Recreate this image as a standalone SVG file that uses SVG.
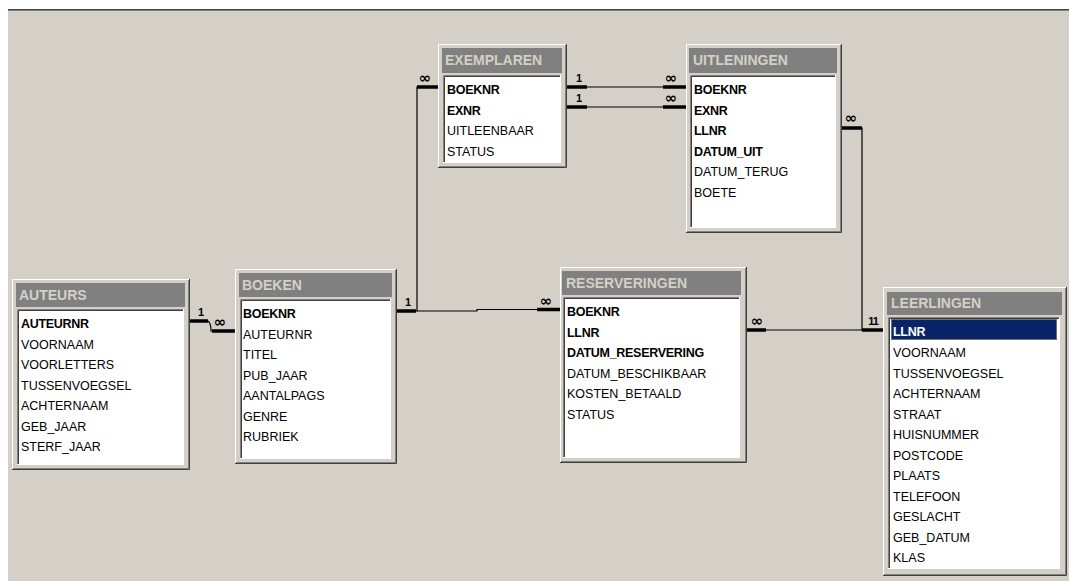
<svg xmlns="http://www.w3.org/2000/svg" width="1070" height="581" viewBox="0 0 1070 581">
<style>
.face{fill:#D4D0C8}
.hl{fill:none;stroke:#FFFFFF;stroke-width:1}
.sh1{fill:none;stroke:#404040;stroke-width:1}
.sh2{fill:none;stroke:#808080;stroke-width:1}
.tbar{fill:#808080}
.ttl{font-family:"Liberation Sans",Arial,sans-serif;font-weight:bold;font-size:14px;fill:#D4D0C8}
.list{fill:#FFFFFF}
.f{font-family:"Liberation Sans",Arial,sans-serif;font-size:12.5px;fill:#000}
.b{font-weight:bold;letter-spacing:-0.3px}
.thin{fill:none;stroke:#000;stroke-width:1.2}
.thick{fill:none;stroke:#000;stroke-width:3.5}
.lbl{font-family:"Liberation Sans",Arial,sans-serif;font-weight:bold;font-size:11px;fill:#000;text-anchor:middle}
.inf{font-family:"DejaVu Sans",sans-serif;font-weight:bold;font-size:15px;fill:#000;text-anchor:middle}
</style>
<rect x="0" y="0" width="1070" height="581" fill="#FFFFFF"/>
<rect x="8" y="9" width="1061" height="572" fill="#D4D0C8"/>
<line x1="8" y1="9.5" x2="1069" y2="9.5" stroke="#404040"/>
<line x1="8" y1="10.5" x2="1069" y2="10.5" stroke="#808080"/>

<g id="connectors">
  <!-- AUTEURS - BOEKEN -->
  <path class="thin" d="M190,321 H208 Q211,323 211,331 H235"/>
  <line class="thick" x1="190" y1="321" x2="208" y2="321"/>
  <line class="thick" x1="212" y1="331" x2="235" y2="331"/>
  <text class="lbl" x="201" y="316">1</text>
  <text class="inf" x="220" y="327">∞</text>
  <!-- BOEKEN - EXEMPLAREN -->
  <path class="thin" d="M397,311 H417 V87 H438"/>
  <line class="thick" x1="397" y1="311" x2="416" y2="311"/>
  <line class="thick" x1="417" y1="87" x2="438" y2="87"/>
  <text class="lbl" x="408" y="306">1</text>
  <text class="inf" x="425" y="83">∞</text>
  <!-- BOEKEN - RESERVERINGEN -->
  <path class="thin" d="M417,311 H477 V309.5 H560"/>
  <line class="thick" x1="537" y1="309.5" x2="560" y2="309.5"/>
  <text class="inf" x="546" y="306">∞</text>
  <!-- EXEMPLAREN - UITLENINGEN -->
  <path class="thin" d="M567,87 H686"/>
  <line class="thick" x1="567" y1="87" x2="587" y2="87"/>
  <line class="thick" x1="663" y1="87" x2="686" y2="87"/>
  <text class="lbl" x="579" y="82">1</text>
  <text class="inf" x="671" y="83">∞</text>
  <path class="thin" d="M567,107 H686"/>
  <line class="thick" x1="567" y1="107" x2="587" y2="107"/>
  <line class="thick" x1="663" y1="107" x2="686" y2="107"/>
  <text class="lbl" x="579" y="102">1</text>
  <text class="inf" x="671" y="103">∞</text>
  <!-- UITLENINGEN - LEERLINGEN -->
  <path class="thin" d="M842,128 H862 V330 H883"/>
  <line class="thick" x1="842" y1="128" x2="862" y2="128"/>
  <line class="thick" x1="862" y1="330" x2="883" y2="330"/>
  <text class="inf" x="851" y="123">∞</text>
  <text class="lbl" x="873" y="325" letter-spacing="-1">11</text>
  <!-- RESERVERINGEN - LEERLINGEN -->
  <path class="thin" d="M747,330 H862"/>
  <line class="thick" x1="747" y1="330" x2="766" y2="330"/>
  <text class="inf" x="757" y="326">∞</text>
</g>

<g id="AUTEURS" transform="translate(12,279)">
  <rect class="face" x="0" y="0" width="178" height="191"/>
  <path class="hl" d="M0.5,190 V0.5 H177"/>
  <path class="sh1" d="M0,190.5 H177.5 V0"/>
  <path class="sh2" d="M1,189.5 H176.5 V1"/>
  <rect class="tbar" x="4" y="4" width="169" height="24"/>
  <text class="ttl" x="7" y="21">AUTEURS</text>
  <rect class="list" x="5" y="30" width="167" height="156"/>
  <path class="sh2" d="M5.5,186 V30.5 H172"/>
  <path class="sh1" d="M6.5,185 V31.5 H171"/>
  <path class="hl" d="M5,185.5 H171.5 V30"/>
  <text class="f b" x="9" y="49">AUTEURNR</text>
  <text class="f" x="9" y="69.5">VOORNAAM</text>
  <text class="f" x="9" y="90">VOORLETTERS</text>
  <text class="f" x="9" y="110.5">TUSSENVOEGSEL</text>
  <text class="f" x="9" y="131">ACHTERNAAM</text>
  <text class="f" x="9" y="151.5">GEB_JAAR</text>
  <text class="f" x="9" y="172">STERF_JAAR</text>
</g>

<g id="BOEKEN" transform="translate(235,269)">
  <rect class="face" x="0" y="0" width="162" height="195"/>
  <path class="hl" d="M0.5,194 V0.5 H161"/>
  <path class="sh1" d="M0,194.5 H161.5 V0"/>
  <path class="sh2" d="M1,193.5 H160.5 V1"/>
  <rect class="tbar" x="4" y="4" width="153" height="24"/>
  <text class="ttl" x="7" y="21">BOEKEN</text>
  <rect class="list" x="5" y="30" width="151" height="160"/>
  <path class="sh2" d="M5.5,190 V30.5 H156"/>
  <path class="sh1" d="M6.5,189 V31.5 H155"/>
  <path class="hl" d="M5,189.5 H155.5 V30"/>
  <text class="f b" x="8" y="49">BOEKNR</text>
  <text class="f" x="8" y="69.5">AUTEURNR</text>
  <text class="f" x="8" y="90">TITEL</text>
  <text class="f" x="8" y="110.5">PUB_JAAR</text>
  <text class="f" x="8" y="131">AANTALPAGS</text>
  <text class="f" x="8" y="151.5">GENRE</text>
  <text class="f" x="8" y="172">RUBRIEK</text>
</g>

<g id="EXEMPLAREN" transform="translate(438,44)">
  <rect class="face" x="0" y="0" width="129" height="124"/>
  <path class="hl" d="M0.5,123 V0.5 H128"/>
  <path class="sh1" d="M0,123.5 H128.5 V0"/>
  <path class="sh2" d="M1,122.5 H127.5 V1"/>
  <rect class="tbar" x="4" y="4" width="120" height="25"/>
  <text class="ttl" x="7" y="21">EXEMPLAREN</text>
  <rect class="list" x="5" y="31" width="118" height="88"/>
  <path class="sh2" d="M5.5,119 V31.5 H123"/>
  <path class="sh1" d="M6.5,118 V32.5 H122"/>
  <path class="hl" d="M5,118.5 H122.5 V31"/>
  <text class="f b" x="9" y="50">BOEKNR</text>
  <text class="f b" x="9" y="70.5">EXNR</text>
  <text class="f" x="9" y="91">UITLEENBAAR</text>
  <text class="f" x="9" y="111.5">STATUS</text>
</g>

<g id="UITLENINGEN" transform="translate(686,44)">
  <rect class="face" x="0" y="0" width="156" height="189"/>
  <path class="hl" d="M0.5,188 V0.5 H155"/>
  <path class="sh1" d="M0,188.5 H155.5 V0"/>
  <path class="sh2" d="M1,187.5 H154.5 V1"/>
  <rect class="tbar" x="3" y="4" width="148" height="25"/>
  <text class="ttl" x="7" y="21">UITLENINGEN</text>
  <rect class="list" x="4" y="31" width="146" height="153"/>
  <path class="sh2" d="M4.5,184 V31.5 H150"/>
  <path class="sh1" d="M5.5,183 V32.5 H149"/>
  <path class="hl" d="M4,183.5 H149.5 V31"/>
  <text class="f b" x="8" y="50">BOEKNR</text>
  <text class="f b" x="8" y="70.5">EXNR</text>
  <text class="f b" x="8" y="91">LLNR</text>
  <text class="f b" x="8" y="111.5">DATUM_UIT</text>
  <text class="f" x="8" y="132">DATUM_TERUG</text>
  <text class="f" x="8" y="152.5">BOETE</text>
</g>

<g id="RESERVERINGEN" transform="translate(560,267)">
  <rect class="face" x="0" y="0" width="187" height="196"/>
  <path class="hl" d="M0.5,195 V0.5 H186"/>
  <path class="sh1" d="M0,195.5 H186.5 V0"/>
  <path class="sh2" d="M1,194.5 H185.5 V1"/>
  <rect class="tbar" x="2" y="4" width="179" height="24"/>
  <text class="ttl" x="6" y="21">RESERVERINGEN</text>
  <rect class="list" x="3" y="30" width="177" height="161"/>
  <path class="sh2" d="M3.5,191 V30.5 H180"/>
  <path class="sh1" d="M4.5,190 V31.5 H179"/>
  <path class="hl" d="M3,190.5 H179.5 V30"/>
  <text class="f b" x="7" y="49">BOEKNR</text>
  <text class="f b" x="7" y="69.5">LLNR</text>
  <text class="f b" x="7" y="90">DATUM_RESERVERING</text>
  <text class="f" x="7" y="110.5">DATUM_BESCHIKBAAR</text>
  <text class="f" x="7" y="131">KOSTEN_BETAALD</text>
  <text class="f" x="7" y="151.5">STATUS</text>
</g>

<g id="LEERLINGEN" transform="translate(883,287)">
  <rect class="face" x="0" y="0" width="184" height="289"/>
  <path class="hl" d="M0.5,288 V0.5 H183"/>
  <path class="sh1" d="M0,288.5 H183.5 V0"/>
  <path class="sh2" d="M1,287.5 H182.5 V1"/>
  <rect class="tbar" x="4" y="5" width="175" height="23"/>
  <text class="ttl" x="8" y="21">LEERLINGEN</text>
  <rect class="list" x="5" y="30" width="172" height="252"/>
  <path class="sh2" d="M5.5,282 V30.5 H177"/>
  <path class="sh1" d="M6.5,281 V31.5 H176"/>
  <path class="hl" d="M5,281.5 H176.5 V30"/>
  <rect x="8" y="32" width="166" height="21" fill="#0A246A"/>
  <rect x="8.5" y="32.5" width="165" height="20" fill="none" stroke="#D8C070" stroke-width="1" stroke-dasharray="1,1"/>
  <text class="f b" x="10" y="49" fill="#FFFFFF" style="fill:#FFFFFF">LLNR</text>
  <text class="f" x="10" y="70">VOORNAAM</text>
  <text class="f" x="10" y="90.5">TUSSENVOEGSEL</text>
  <text class="f" x="10" y="111">ACHTERNAAM</text>
  <text class="f" x="10" y="131.5">STRAAT</text>
  <text class="f" x="10" y="152">HUISNUMMER</text>
  <text class="f" x="10" y="172.5">POSTCODE</text>
  <text class="f" x="10" y="193">PLAATS</text>
  <text class="f" x="10" y="213.5">TELEFOON</text>
  <text class="f" x="10" y="234">GESLACHT</text>
  <text class="f" x="10" y="254.5">GEB_DATUM</text>
  <text class="f" x="10" y="275">KLAS</text>
</g>
</svg>
